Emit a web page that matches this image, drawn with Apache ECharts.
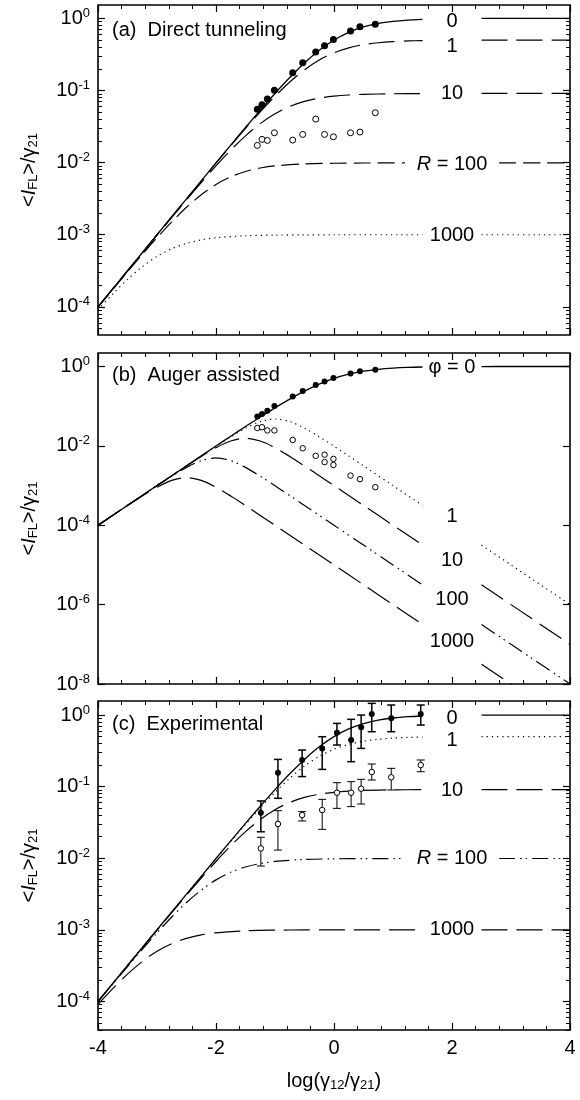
<!DOCTYPE html>
<html><head><meta charset="utf-8">
<script src="https://cdn.jsdelivr.net/npm/echarts@6/dist/echarts.min.js"></script>
<style>html,body{margin:0;padding:0;background:#fff}#chart{width:580px;height:1100px}</style>
</head><body><div id="chart"></div>
<script>
// ---------------- DATA (x = log(γ12/γ21), y = <I_FL>/γ21) ; null = gap for the curve label
const xTickValues = [-4, -2, 0, 2, 4];
const yDecadesA = [-4, -3, -2, -1, 0];
const yDecadesB = [-8, -6, -4, -2, 0];
const yDecadesC = [-4, -3, -2, -1, 0];

// theory curves, panels (a) and (c): parameter R
const curveR0 = [[-4,1.00e-4],[-3,1.00e-3],[-2.5,3.15e-3],[-2,9.90e-3],[-1.75,1.75e-2],[-1.5,3.07e-2],[-1.25,5.32e-2],[-1,9.09e-2],[-0.75,0.151],[-0.5,0.240],[-0.25,0.360],[0,0.500],[0.25,0.640],[0.5,0.760],[0.75,0.849],[1,0.909],[1.25,0.947],[1.5,0.970],null,[2.5,0.997],[3,0.999],[4,1.0]];
const curveR1 = [[-4,1.0e-4],[-3,9.98e-4],[-2.5,3.14e-3],[-2,9.80e-3],[-1.75,1.72e-2],[-1.5,2.98e-2],[-1.25,5.05e-2],[-1,8.33e-2],[-0.75,0.131],[-0.5,0.194],[-0.25,0.265],[0,0.333],[0.25,0.390],[0.5,0.432],[0.75,0.459],[1,0.476],[1.25,0.486],[1.5,0.492],null,[2.5,0.498],[3,0.499],[4,0.500]];
const curveR10 = [[-4,1.0e-4],[-3.5,3.15e-4],[-3,9.89e-4],[-2.5,3.05e-3],[-2.25,5.29e-3],[-2,9.0e-3],[-1.75,1.49e-2],[-1.5,2.35e-2],[-1.25,3.47e-2],[-1,4.76e-2],[-0.75,6.01e-2],[-0.5,7.06e-2],[-0.25,7.83e-2],[0,8.33e-2],[0.25,8.65e-2],[0.5,8.84e-2],[1,9.01e-2],[1.5,9.07e-2],null,[2.5,9.09e-2],[4,9.09e-2]];
const curveR100 = [[-4,9.9e-5],[-3.5,3.06e-4],[-3.25,5.32e-4],[-3,9.08e-4],[-2.75,1.51e-3],[-2.5,2.40e-3],[-2.25,3.59e-3],[-2,4.98e-3],[-1.75,6.36e-3],[-1.5,7.54e-3],[-1.25,8.41e-3],[-1,9.01e-3],[-0.5,9.60e-3],[0,9.80e-3],[0.5,9.87e-3],[1.2,9.90e-3],null,[2.8,9.90e-3],[4,9.90e-3]];
const curveR1000 = [[-4,9.09e-5],[-3.75,1.51e-4],[-3.5,2.40e-4],[-3.25,3.60e-4],[-3,5.00e-4],[-2.75,6.40e-4],[-2.5,7.59e-4],[-2.25,8.48e-4],[-2,9.08e-4],[-1.5,9.68e-4],[-1,9.89e-4],[-0.5,9.96e-4],[0,9.99e-4],[1.5,1.0e-3],null,[2.5,1.0e-3],[4,1.0e-3]];

// theory curves, panel (b): parameter φ
const curvePhi1 = [[-4,1.0e-4],[-3,1.0e-3],[-2.5,3.15e-3],[-2,9.80e-3],[-1.75,1.69e-2],[-1.5,2.80e-2],[-1.25,4.10e-2],[-1,4.76e-2],[-0.75,4.10e-2],[-0.5,2.79e-2],[-0.25,1.69e-2],[0,9.80e-3],[0.25,5.57e-3],[0.5,3.15e-3],[1,9.99e-4],[1.5,3.16e-4],null,[2.5,3.16e-5],[3,1.0e-5],[4,1.0e-6]];
const curvePhi10 = [[-4,1.0e-4],[-3,9.98e-4],[-2.5,3.12e-3],[-2.25,5.42e-3],[-2,9.01e-3],[-1.75,1.33e-2],[-1.5,1.56e-2],[-1.25,1.33e-2],[-1,9.01e-3],[-0.75,5.42e-3],[-0.5,3.12e-3],[-0.25,1.77e-3],[0,9.98e-4],[0.5,3.16e-4],[1,1.0e-4],[1.5,3.16e-5],null,[2.5,3.16e-6],[3,1.0e-6],[4,1.0e-7]];
const curvePhi100 = [[-4,1.0e-4],[-3.5,3.16e-4],[-3,9.89e-4],[-2.75,1.72e-3],[-2.5,2.87e-3],[-2.25,4.25e-3],[-2,4.98e-3],[-1.75,4.25e-3],[-1.5,2.87e-3],[-1.25,1.72e-3],[-1,9.89e-4],[-0.5,3.16e-4],[0,1.0e-4],[0.5,3.16e-5],[1,1.0e-5],[1.5,3.16e-6],null,[2.5,3.16e-7],[3,1.0e-7],[4,1.0e-8]];
const curvePhi1000 = [[-4,9.99e-5],[-3.75,1.77e-4],[-3.5,3.13e-4],[-3.25,5.45e-4],[-3,9.08e-4],[-2.75,1.35e-3],[-2.5,1.58e-3],[-2.25,1.35e-3],[-2,9.08e-4],[-1.75,5.45e-4],[-1.5,3.13e-4],[-1,1.0e-4],[-0.5,3.16e-5],[0,1.0e-5],[0.5,3.16e-6],[1,1.0e-6],[1.5,3.16e-7],null,[2.5,3.16e-8],[3,1.0e-8],[3.5,3.16e-9]];

// measured points, panels (a)/(b)
const expX = [-1.30,-1.22,-1.13,-1.01,-0.70,-0.53,-0.31,-0.16,-0.01,0.28,0.44,0.70];
const filledMeas = [0.0547,0.0635,0.0762,0.101,0.176,0.242,0.342,0.418,0.511,0.670,0.762,0.826];
const openDirect = [0.0173,0.0210,0.0203,0.0259,0.0205,0.0246,0.0401,0.0246,0.0228,0.0259,0.0265,0.0491];
const openAugerX = [-1.30,-1.22,-1.13,-1.01,-0.70,-0.53,-0.31,-0.16,-0.16,-0.01,-0.01,0.28,0.44,0.70];
const openAuger = [0.0282,0.0295,0.0245,0.0245,0.0141,0.0087,0.0056,0.0060,0.0039,0.0047,0.0033,0.00178,0.00145,0.00091];

// measured points with error bars, panel (c)
const expXC = [-1.24,-0.95,-0.54,-0.20,0.05,0.29,0.46,0.64,0.97,1.47];
const filledC = [0.0432,0.156,0.236,0.342,0.566,0.448,0.673,1.03,0.90,1.03];
const filledCLow = [0.0234,0.0686,0.138,0.174,0.381,0.223,0.342,0.585,0.585,0.724];
const filledCHigh = [0.0631,0.240,0.324,0.498,0.764,0.871,1.00,1.455,1.38,1.38];
const openC = [0.0137,0.0301,0.0401,0.0471,0.0822,0.0822,0.0935,0.160,0.135,0.200];
const openCLow = [0.00778,0.0130,0.0331,0.0253,0.0497,0.0525,0.0571,0.1236,0.0897,0.1614];
const openCHigh = [0.0196,0.0461,0.0447,0.0664,0.1135,0.1172,0.1265,0.207,0.180,0.2355];

// curve labels
const labelsA = ['0', '1', '10', '{i|R} = 100', '1000'];
const labelsB = ['φ = 0', '1', '10', '100', '1000'];
const labelsC = ['0', '1', '10', '{i|R} = 100', '1000'];
const panelTitles = ['(a)  Direct tunneling', '(b)  Auger assisted', '(c)  Experimental'];

// ---------------- LAYOUT / STYLE
const labelAnchorX = 2;
const labelAnchorYA = [0.897, 0.407, 0.0912, 0.00944, 0.000989];
const labelAnchorYB = [0.964, 1.66e-4, 1.29e-5, 1.38e-6, 1.17e-7];
const labelAnchorYC = [0.90, 0.447, 0.089, 0.0100, 0.00100];

const FONT = '"Liberation Sans", Arial, Helvetica, sans-serif';
const BLACK = '#000';
const DOT = [1.2, 4];
const LONG = [26, 9];
const MED = [17, 7];
const DDOT = [16, 5, 1.5, 4, 1.5, 5];

const L10 = v => Math.log10(v);
const grids = [
  {left: 98, right: 10, top: 5, height: 330},
  {left: 98, right: 10, top: 353, height: 331},
  {left: 98, right: 10, top: 701, height: 329}
];
const yRanges = [[-4.39, 0.185], [-8, 0.34], [-4.40, 0.196]];
const yMajor = [yDecadesA, yDecadesB, yDecadesC];

function minorLogs(lo, hi) {
  const out = [];
  for (let n = Math.floor(lo); n <= Math.ceil(hi); n++)
    for (let k = 2; k <= 9; k++) { const v = n + Math.log10(k); if (v > lo && v < hi) out.push(v); }
  return out;
}

const xAxis = [], yAxis = [], series = [];
const tickStyle = {color: BLACK, width: 1.2};
const richLabel = {
  b: {fontSize: 20, fontFamily: FONT, color: BLACK},
  s: {fontSize: 13, fontFamily: FONT, color: BLACK, padding: [0, 0, 10, 0]}
};
const yName = '<{i|I}{s|FL}>/γ{s|21}';
const nameRich = {
  i: {fontSize: 20, fontStyle: 'italic', fontFamily: FONT, color: BLACK},
  s: {fontSize: 13, fontFamily: FONT, color: BLACK, padding: [9, 0, 0, 0]}
};

grids.forEach((g, p) => {
  const common = {gridIndex: p, type: 'value', min: -4, max: 4, interval: 2,
    axisLine: {show: false, onZero: false}, splitLine: {show: false},
    axisTick: {inside: true, length: 7, lineStyle: tickStyle},
    minorTick: {show: true, splitNumber: 5, length: 4, lineStyle: {color: BLACK, width: 1}}};
  xAxis.push(Object.assign({}, common, {position: 'bottom',
    axisLabel: p === 2 ? {show: true, fontSize: 20, fontFamily: FONT, color: BLACK, margin: 8} : {show: false},
    name: p === 2 ? 'log(γ{s|12}/γ{s|21})' : '', nameLocation: 'middle', nameGap: 40,
    nameTextStyle: {fontSize: 20, fontFamily: FONT, color: BLACK, rich: nameRich}}));
  xAxis.push(Object.assign({}, common, {position: 'top', axisLabel: {show: false}}));

  const [lo, hi] = yRanges[p];
  const minors = p === 1 ? [] : minorLogs(lo, hi);
  const base = {gridIndex: p, type: 'value', min: lo, max: hi, axisLine: {show: false, onZero: false}, splitLine: {show: false}};
  yAxis.push(Object.assign({}, base, {position: 'left',
    axisTick: {inside: true, length: 7, customValues: yMajor[p], lineStyle: tickStyle},
    axisLabel: {customValues: yMajor[p], margin: 8, formatter: v => '{b|10}{s|' + Math.round(v) + '}', rich: richLabel},
    name: yName, nameLocation: 'middle', nameRotate: 90, nameGap: 58,
    nameTextStyle: {fontSize: 20, fontFamily: FONT, color: BLACK, rich: nameRich}}));
  yAxis.push(Object.assign({}, base, {position: 'left',
    axisTick: {show: minors.length > 0, inside: true, length: 4, customValues: minors.length ? minors : [lo], lineStyle: {color: BLACK, width: 1}},
    axisLabel: {show: false}}));
  yAxis.push(Object.assign({}, base, {position: 'right',
    axisTick: {inside: true, length: 7, customValues: yMajor[p], lineStyle: tickStyle},
    axisLabel: {show: false}}));
  yAxis.push(Object.assign({}, base, {position: 'right',
    axisTick: {show: minors.length > 0, inside: true, length: 4, customValues: minors.length ? minors : [lo], lineStyle: {color: BLACK, width: 1}},
    axisLabel: {show: false}}));
});

function addCurve(p, pts, dash, width) {
  let seg = [];
  const flush = () => {
    if (seg.length) series.push({type: 'line', xAxisIndex: p * 2, yAxisIndex: p * 4, data: seg,
      symbol: 'none', smooth: 0.3, silent: true, clip: true, z: 3,
      lineStyle: {color: BLACK, width: width || 1.2, type: dash}});
    seg = [];
  };
  pts.forEach(pt => { if (pt === null) flush(); else seg.push([pt[0], L10(pt[1])]); });
  flush();
}

function addPoints(p, xs, ys, filled, size) {
  series.push({type: 'scatter', xAxisIndex: p * 2, yAxisIndex: p * 4, silent: true, z: 5,
    data: xs.map((x, i) => [x, L10(ys[i])]), symbol: 'circle', symbolSize: size,
    itemStyle: filled ? {color: BLACK, opacity: 1} : {color: '#fff', borderColor: BLACK, borderWidth: 1, opacity: 1}});
}

function addErrorBars(p, xs, lows, highs, lw) {
  series.push({type: 'custom', xAxisIndex: p * 2, yAxisIndex: p * 4, silent: true, z: 4,
    data: xs.map((x, i) => [x, L10(lows[i]), L10(highs[i])]),
    encode: {x: 0, y: [1, 2]},
    renderItem: (params, api) => {
      const x = api.value(0);
      const a = api.coord([x, api.value(1)]);
      const b = api.coord([x, api.value(2)]);
      const w = 4, st = {stroke: BLACK, lineWidth: lw};
      return {type: 'group', children: [
        {type: 'line', shape: {x1: a[0], y1: a[1], x2: b[0], y2: b[1]}, style: st},
        {type: 'line', shape: {x1: a[0] - w, y1: a[1], x2: a[0] + w, y2: a[1]}, style: st},
        {type: 'line', shape: {x1: b[0] - w, y1: b[1], x2: b[0] + w, y2: b[1]}, style: st}
      ]};
    }});
}

function addLabels(p, texts, ys) {
  series.push({type: 'scatter', xAxisIndex: p * 2, yAxisIndex: p * 4, silent: true, z: 6,
    data: texts.map((t, i) => [labelAnchorX, L10(ys[i]), t]),
    symbolSize: 0, itemStyle: {color: BLACK, opacity: 1},
    label: {show: true, position: [0, 0], align: 'center', verticalAlign: 'middle', opacity: 1,
      formatter: q => q.data[2], color: BLACK, textBorderWidth: 0,
      fontSize: 20, fontFamily: FONT,
      rich: {i: {fontSize: 20, fontStyle: 'italic', fontFamily: FONT, color: BLACK}}}});
}

// panel (a)
addCurve(0, curveR0, 'solid', 1.3);
addCurve(0, curveR1, LONG);
addCurve(0, curveR10, LONG);
addCurve(0, curveR100, MED);
addCurve(0, curveR1000, DOT);
addPoints(0, expX, filledMeas, true, 7);
addPoints(0, expX, openDirect, false, 6);
addLabels(0, labelsA, labelAnchorYA);

// panel (b)
addCurve(1, curveR0, 'solid', 1.3);
addCurve(1, curvePhi1, DOT);
addCurve(1, curvePhi10, LONG);
addCurve(1, curvePhi100, DDOT);
addCurve(1, curvePhi1000, LONG);
addPoints(1, expX, filledMeas, true, 6);
addPoints(1, openAugerX, openAuger, false, 5.5);
addLabels(1, labelsB, labelAnchorYB);

// panel (c)
addCurve(2, curveR0, 'solid', 1.3);
addCurve(2, curveR1, DOT);
addCurve(2, curveR10, LONG);
addCurve(2, curveR100, DDOT);
addCurve(2, curveR1000, LONG);
addErrorBars(2, expXC, filledCLow, filledCHigh, 1.5);
addErrorBars(2, expXC, openCLow, openCHigh, 1);
addPoints(2, expXC, filledC, true, 6);
addPoints(2, expXC, openC, false, 5.5);
addLabels(2, labelsC, labelAnchorYC);

const titleTops = [15, 360, 709];
const option = {
  animation: false,
  backgroundColor: '#fff',
  textStyle: {fontFamily: FONT},
  title: panelTitles.map((t, i) => ({text: t, left: 107, top: titleTops[i],
    textStyle: {fontSize: 20, fontWeight: 'normal', fontFamily: FONT, color: BLACK}})),
  grid: grids.map(g => Object.assign({show: true, borderColor: BLACK, borderWidth: 1.6, backgroundColor: 'transparent'}, g)),
  xAxis, yAxis, series
};
const chart = echarts.init(document.getElementById('chart'));
chart.setOption(option);
</script></body></html>
